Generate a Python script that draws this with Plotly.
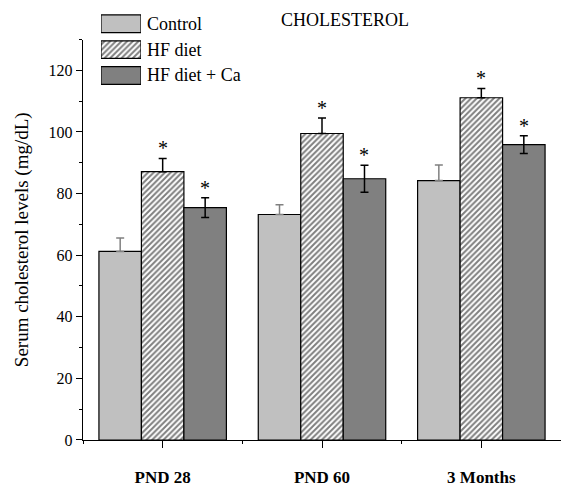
import plotly.graph_objects as go

categories = ["PND 28", "PND 60", "3 Months"]
series_names = ["Control", "HF diet", "HF diet + Ca"]
control = [61.2, 73.2, 84.2]
control_err = [4.4, 3.2, 5.1]
hf = [87.1, 99.5, 111.1]
hf_err = [4.3, 5.0, 3.0]
hfca = [75.4, 84.8, 95.9]
hfca_err = [3.2, 4.4, 2.9]
significant = [[False, True, True], [False, True, True], [False, True, True]]  # per category: control, hf, hfca
y_ticks = [0, 20, 40, 60, 80, 100, 120]

SERIF = "Liberation Serif"
GAP = 0.2
n = 3
bw = (1 - GAP) / n
xs = list(range(len(categories)))

values = [control, hf, hfca]
errs = [control_err, hf_err, hfca_err]
hatch = dict(shape="/", fgcolor="black", bgcolor="white", size=4, solidity=0.5)
fills = [dict(color="#c0c0c0"),
         dict(color="white", pattern=hatch),
         dict(color="#808080")]
err_styles = [dict(color="#808080", symmetric=False), dict(color="black", symmetric=False), dict(color="black", symmetric=True)]

fig = go.Figure()
for j in range(n):
    es = err_styles[j]
    ey = dict(type="data", array=errs[j], visible=True, color=es["color"], thickness=1.5, width=4)
    if not es["symmetric"]:
        ey["symmetric"] = False
        ey["arrayminus"] = [0] * len(categories)
    fig.add_trace(go.Bar(
        x=xs, y=values[j], name=series_names[j], offsetgroup=str(j),
        marker=dict(color=fills[j]["color"], pattern=fills[j].get("pattern"), line=dict(color="black", width=1.2)),
        error_y=ey, showlegend=False,
    ))

# significance asterisks
for i in range(len(categories)):
    for j in range(n):
        if significant[i][j]:
            fig.add_annotation(x=i + (j - 1) * bw, y=values[j][i] + errs[j][i], xref="x", yref="y",
                               text="*", showarrow=False, yanchor="bottom", yshift=-3,
                               font=dict(family=SERIF, size=20, color="black"))

# legend drawn as a small inset bar chart (so the hatched pattern shows)
for j in range(n):
    fig.add_trace(go.Bar(
        x=[1], y=[j], orientation="h", xaxis="x2", yaxis="y2", width=0.68,
        marker=dict(color=fills[j]["color"], pattern=fills[j].get("pattern"), line=dict(color="black", width=1.2)),
        showlegend=False, hoverinfo="skip",
    ))
    fig.add_annotation(x=1, y=j, xref="x2", yref="y2", text=series_names[j], showarrow=False,
                       xanchor="left", xshift=4, font=dict(family=SERIF, size=18, color="black"))

W, H = 561, 487
ml, mr, mt, mb = 83, 0, 10, 40
plot_h = H - mt - mb
plot_w = W - ml - mr
ytop_px = 40
main_top = (H - mb - ytop_px) / plot_h

def px_x(p):
    return (p - ml) / plot_w

def px_y(p):
    return (H - mb - p) / plot_h

fig.update_layout(
    width=W, height=H,
    margin=dict(l=ml, r=mr, t=mt, b=mb),
    paper_bgcolor="white", plot_bgcolor="white",
    barmode="group", bargap=GAP, bargroupgap=0,
    font=dict(family=SERIF, color="black"),
    title=dict(text="CHOLESTEROL", x=345 / W, xref="container", xanchor="center",
               y=1 - 20 / H, yref="container", yanchor="middle",
               font=dict(family=SERIF, size=18, color="black")),
    xaxis=dict(range=[-0.5, 2.5], tickvals=xs, ticktext=categories,
               showline=True, linecolor="black", linewidth=1.4, showgrid=False, zeroline=False,
               ticks="outside", ticklen=7, tickwidth=1.4, tickcolor="black",
               ticklabelstandoff=14,
               tickfont=dict(family=SERIF, size=17, color="black", weight="bold"),
               minor=dict(tick0=0.5, dtick=1, ticks="outside", ticklen=3, tickwidth=1.4, tickcolor="black"),
               domain=[0, 1]),
    yaxis=dict(range=[0, 130], tickvals=y_ticks, domain=[0, main_top],
               showline=True, linecolor="black", linewidth=1.4, showgrid=False, zeroline=False,
               ticks="outside", ticklen=6, tickwidth=1.4, tickcolor="black",
               tickfont=dict(family=SERIF, size=16, color="black"),
               minor=dict(tick0=10, dtick=20, ticks="outside", ticklen=3, tickwidth=1.4, tickcolor="black"),
               title=dict(text="Serum cholesterol levels (mg/dL)", standoff=14,
                          font=dict(family=SERIF, size=19, color="black"))),
    xaxis2=dict(domain=[px_x(101), px_x(141)], range=[0, 1], anchor="y2",
                visible=False, fixedrange=True),
    yaxis2=dict(domain=[px_y(89.7), px_y(10.8)], range=[2.5, -0.5], anchor="x2",
                visible=False, fixedrange=True),
)

fig.write_html("out.html")
